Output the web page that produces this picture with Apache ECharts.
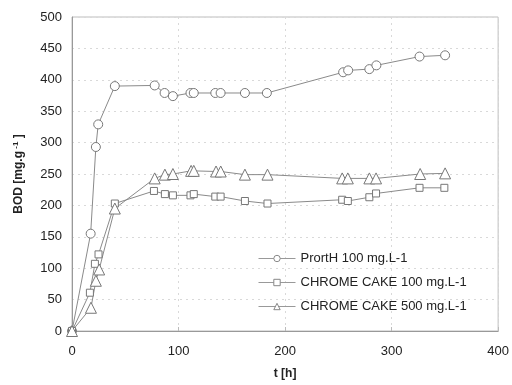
<!DOCTYPE html>
<html><head><meta charset="utf-8">
<script src="https://cdn.jsdelivr.net/npm/echarts@6/dist/echarts.min.js"></script>
<style>html,body{margin:0;padding:0;background:#fff}#c{width:512px;height:385px}</style>
</head><body><div id="c"></div>
<script>
var protT = [0, 17.5, 22.4, 24.6, 40.2, 77.6, 86.9, 94.7, 111.2, 114.3, 134.5, 139.5, 162.3, 182.9, 254.5, 259.2, 279.1, 285.7, 326.2, 350.2];
var protV = [0, 155, 293, 329, 390, 391, 379, 374, 379, 379, 379, 379, 379, 379, 412, 415, 417, 423, 437, 439];
var cc100T = [0, 16.8, 21.5, 24.9, 40.2, 76.9, 87.2, 94.7, 111.2, 114.3, 134.5, 139.5, 162.3, 183.5, 253.6, 258.9, 279.1, 285.4, 326.2, 349.5];
var cc100V = [0, 61, 107, 122, 203, 223, 218, 216, 216, 218, 214, 214, 207, 203, 209, 207, 213, 219, 228, 228];
var cc500T = [0, 17.8, 22.4, 25.5, 40.2, 77.6, 87.2, 94.7, 111.8, 114.3, 135.2, 139.6, 162.3, 183.5, 253.6, 258.9, 279.1, 285.4, 326.8, 350.2];
var cc500V = [0, 37, 80, 98, 195, 243, 249, 250, 255, 255, 254, 254, 249, 249, 243, 243, 243, 243, 250, 251];
var names = ['PrortH 100 mg.L-1', 'CHROME CAKE 100 mg.L-1', 'CHROME CAKE 500 mg.L-1'];

function pairs(t, v) { return t.map(function (x, i) { return [x, v[i]]; }); }
var lineCol = '#8a8a8a';
function ser(name, t, v, sym, size) {
  return {
    name: name, type: 'line', data: pairs(t, v), symbol: sym, symbolSize: size,
    showAllSymbol: true,
    lineStyle: { color: lineCol, width: 1 },
    itemStyle: { color: '#fff', borderColor: '#777', borderWidth: 1 },
    emphasis: { disabled: true }
  };
}
var chart = echarts.init(document.getElementById('c'));
var grid = { left: 72, right: 12, top: 17, bottom: 49, show: true, borderColor: '#bdbdbd', borderWidth: 1 };
chart.setOption({
  animation: false,
  textStyle: { fontFamily: 'Liberation Sans, Arial, sans-serif' },
  grid: grid,
  legend: {
    orient: 'vertical', left: 258, top: 252, padding: 0, itemWidth: 37, itemHeight: 8, itemGap: 11,
    data: names,
    itemStyle: { borderWidth: 1, borderColor: '#888', color: '#fff' },
    lineStyle: { width: 1, color: '#999' },
    textStyle: { fontSize: 13, color: '#222', fontFamily: 'Liberation Sans, Arial, sans-serif' }
  },
  xAxis: {
    type: 'value', min: 0, max: 400, interval: 100,
    name: 't [h]', nameLocation: 'middle', nameGap: 37,
    nameTextStyle: { fontSize: 12, fontWeight: 'bold', color: '#222' },
    axisLine: { show: true, lineStyle: { color: '#999' } },
    axisTick: { show: true, inside: true, length: 4, lineStyle: { color: '#bbb' } },
    axisLabel: { fontSize: 13, color: '#222', margin: 14 },
    splitLine: { show: true, lineStyle: { color: '#d9d9d9', type: [2, 4] } }
  },
  yAxis: {
    type: 'value', min: 0, max: 500, interval: 50,
    name: '{a|BOD [mg.g}{s| -1}{a| ]}', nameLocation: 'middle', nameGap: 46, nameRotate: 90,
    nameTextStyle: { rich: { a: { fontSize: 12, fontWeight: 'bold', color: '#222' }, s: { fontSize: 8, fontWeight: 'bold', color: '#222', verticalAlign: 'top', padding: [0, 0, 6, 0] } } },
    axisLine: { show: true, lineStyle: { color: '#999' } },
    axisTick: { show: false },
    axisLabel: { fontSize: 13, color: '#222', margin: 10 },
    splitLine: { show: true, lineStyle: { color: '#d9d9d9', type: [2, 4] } }
  },
  series: [
    ser(names[0], protT, protV, 'circle', 9),
    ser(names[1], cc100T, cc100V, 'rect', 7),
    ser(names[2], cc500T, cc500V, 'triangle', 11)
  ]
});
</script></body></html>
